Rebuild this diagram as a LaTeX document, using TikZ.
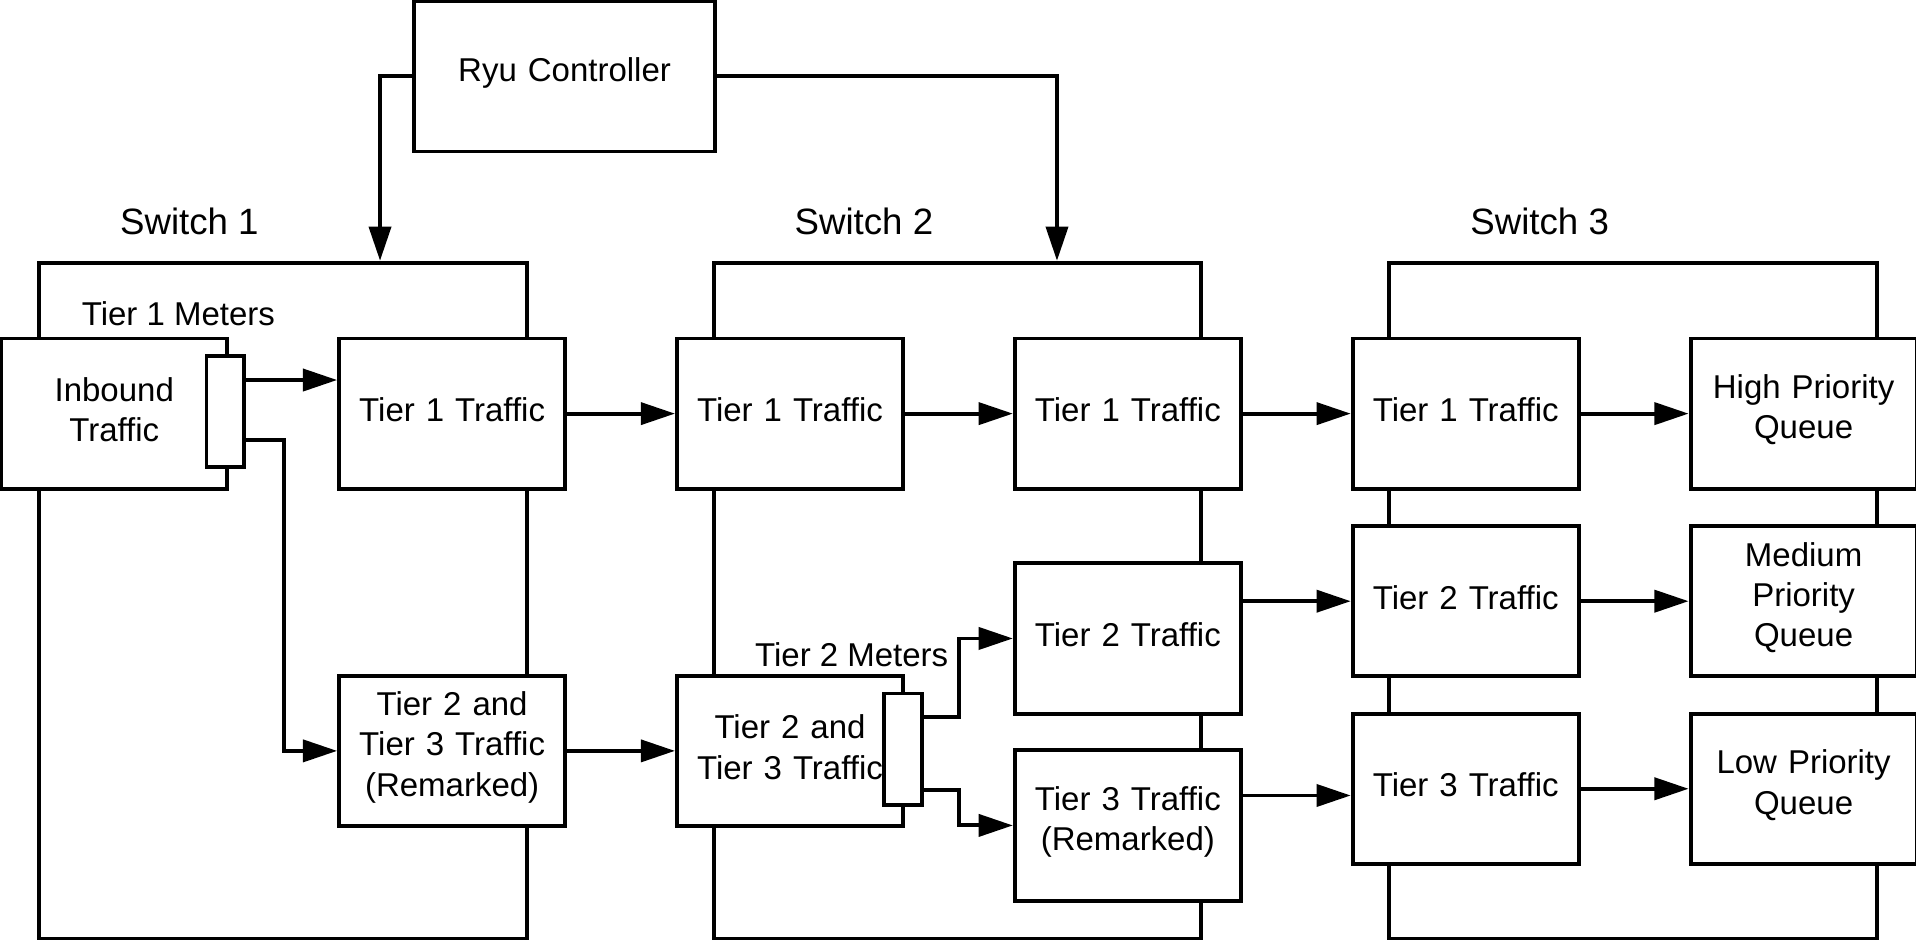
\documentclass[tikz,border=0pt]{standalone}
\usepackage{fontspec}
\setmainfont{Liberation Sans}
\usetikzlibrary{arrows.meta,positioning}
\tikzstyle{int}=[draw,fill=white,line width=1.6pt,minimum width=92.5pt,minimum height=61.5pt,inner sep=0pt,text centered,text width=88pt,font=\fontsize{13.5}{16.5}\selectfont,execute at end node={\endgraf\kern3pt}]
\tikzstyle{sw}=[draw,line width=1.6pt,minimum width=199.5pt,minimum height=276.5pt,inner sep=0pt]
\tikzstyle{meter}=[draw,fill=white,line width=1.6pt,minimum width=15.5pt,minimum height=45.5pt,inner sep=0pt]
\tikzstyle{lbl}=[inner sep=0pt,font=\fontsize{13.5}{16.5}\selectfont]

\begin{document}
\begin{tikzpicture}[>={Triangle[length=14pt,width=9pt]},line width=1.6pt,x=0.5pt,y=-0.5pt,node distance=138.25pt]
    \useasboundingbox (0,0) rectangle (1568,770);
    \node [sw] (sw1) at (231.5,491.5) {};
    \node [sw] (sw2) [node distance=276pt,right of=sw1] {};
    \node [sw] (sw3) [node distance=276.5pt,right of=sw2] {};
    \node [lbl,font=\fontsize{15}{18}\selectfont] (sw1l) at (155,181) {Switch 1};
    \node [lbl,font=\fontsize{15}{18}\selectfont] (sw2l) at (707,181) {Switch 2};
    \node [lbl,font=\fontsize{15}{18}\selectfont] (sw3l) at (1260,181) {Switch 3};

    \node [int,minimum width=123pt,text width=118pt,execute at end node={}] (ryu) at (462,62.5) {Ryu Controller};
    \node [int] (in) at (93.5,338.5) {Inbound\\Traffic};
      \node [int] (s1t1) [right of=in] {Tier 1 Traffic};
      \node [int] (s1t23) [node distance=138pt,below of=s1t1] {Tier 2 and\\Tier 3 Traffic\\(Remarked)};
      \node [int] (s2t1) [right of=s1t1] {Tier 1 Traffic};
      \node [int] (s2t23) [right of=s1t23] {Tier 2 and\\Tier 3 Traffic};
      \node [int] (s2t1b) [right of=s2t1] {Tier 1 Traffic};
      \node [int] (s2t2) [node distance=92pt,below of=s2t1b] {Tier 2 Traffic};
      \node [int] (s2t3) [node distance=76.5pt,below of=s2t2] {Tier 3 Traffic\\(Remarked)};
      \node [int] (s3t1) [right of=s2t1b] {Tier 1 Traffic};
      \node [int] (s3t2) [node distance=76.75pt,below of=s3t1] {Tier 2 Traffic};
      \node [int] (s3t3) [node distance=76.75pt,below of=s3t2] {Tier 3 Traffic};
      \node [int] (hq) [right of=s3t1] {High Priority\\Queue};
      \node [int] (mq) [right of=s3t2] {Medium\\Priority\\Queue};
      \node [int] (lq) [right of=s3t3] {Low Priority\\Queue};

    \node [meter] (m1) at (184.5,336.5) {};
    \node [meter] (m2) at (739,613) {};
    \node [lbl] (m1l) at (146,257) {Tier 1 Meters};
    \node [lbl] (m2l) at (697,536) {Tier 2 Meters};

    \coordinate (m1a) at ([yshift=12.75pt]m1.east);
    \coordinate (m1b) at ([yshift=-11.75pt]m1.east);
    \coordinate (m2a) at ([yshift=13pt]m2.east);
    \coordinate (m2b) at ([yshift=-16.75pt]m2.east);
    \coordinate (s3t3in) at ([yshift=-2.75pt]s3t3.west);

      \draw[->] (ryu.west) -| ([xshift=39.75pt]sw1.north);
      \draw[->] (ryu.east) -| ([xshift=40.75pt]sw2.north);
      \draw[->] (m1a) -- (m1a -| s1t1.west);
      \draw[->] (m1b) -- ++(15.25pt,0) |- (s1t23.west);
      \draw[->] (s1t1) -- (s2t1);
      \draw[->] (s1t23) -- (s2t23);
      \draw[->] (s2t1) -- (s2t1b);
      \draw[->] (m2a) -- ++(14.25pt,0) |- (s2t2.west);
      \draw[->] (m2b) -- ++(14.25pt,0) |- (s2t3.west);
      \draw[->] (s2t1b) -- (s3t1);
      \draw[->] (s2t2.east |- s3t2.west) -- (s3t2.west);
      \draw[->] (s2t3.east |- s3t3in) -- (s3t3in);
      \draw[->] (s3t1) -- (hq);
      \draw[->] (s3t2) -- (mq);
      \draw[->] (s3t3) -- (lq);
\end{tikzpicture}
\end{document}
